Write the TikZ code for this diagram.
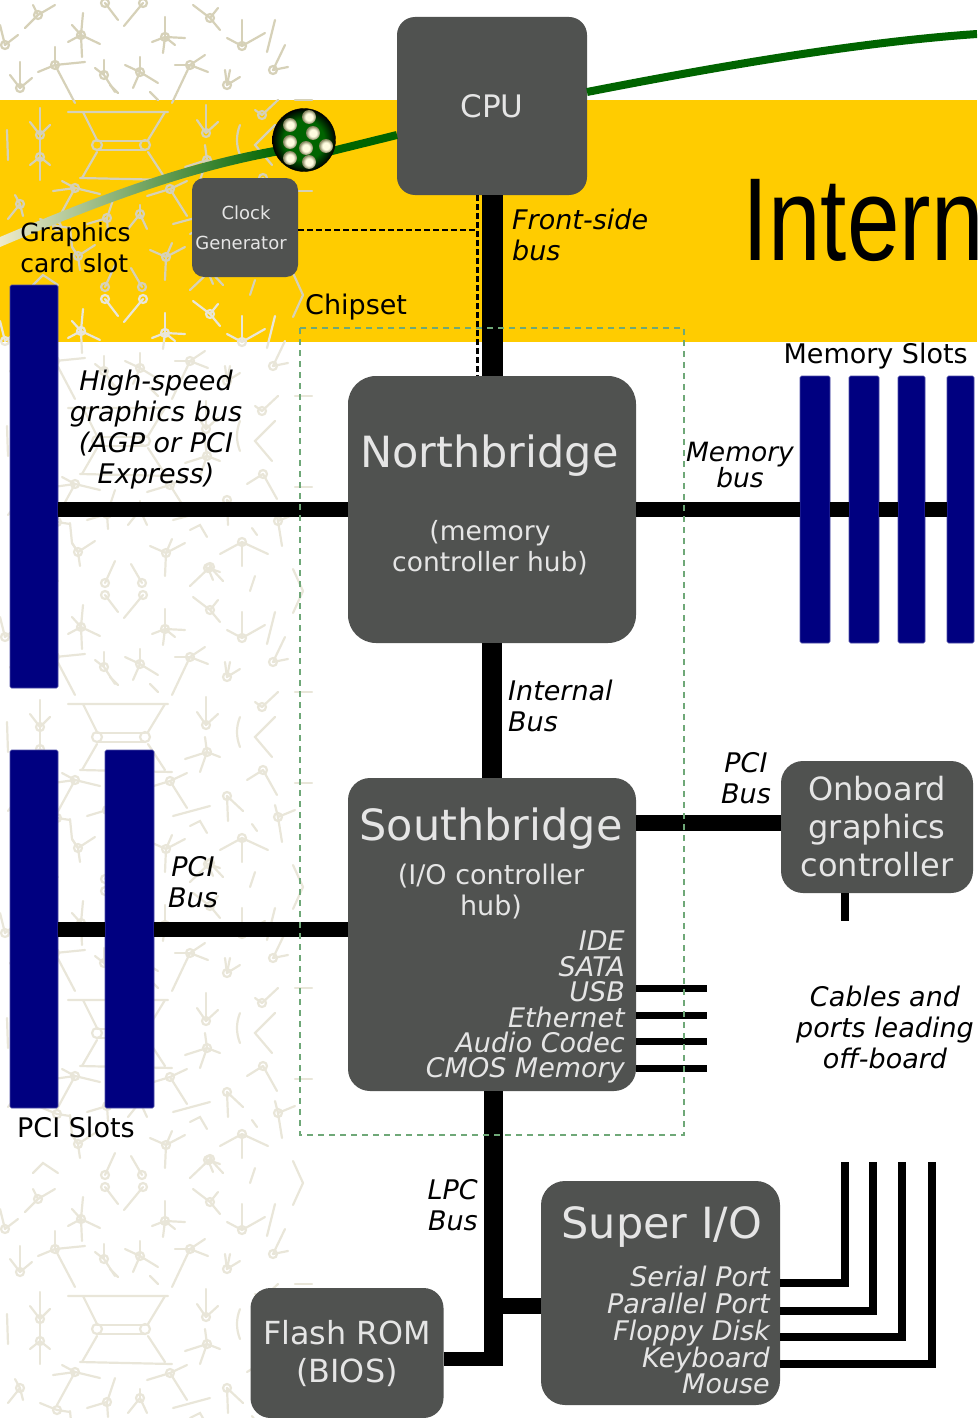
\documentclass[tikz,border=0pt]{standalone}
\usepackage{fontspec}
\setmainfont{DejaVu Sans}
\newfontfamily\arialfont{Liberation Sans}
\usetikzlibrary{calc}

\definecolor{boxgrey}{HTML}{505250}
\definecolor{bandyellow}{HTML}{FFCC00}
\definecolor{slotblue}{HTML}{000080}
\definecolor{cpugreen}{HTML}{006400}
\definecolor{fadecream}{HTML}{EEEACB}
\definecolor{chipgreen}{HTML}{6FA878}
\definecolor{tiledark}{HTML}{D6D1B8}
\definecolor{tilelight}{HTML}{E9E6D9}
\definecolor{pincream}{HTML}{FFFCE0}
\definecolor{pinolive}{HTML}{7F8058}

\pgfdeclareradialshading{ballshade}{\pgfpoint{0bp}{0bp}}{color(0bp)=(cpugreen); color(16bp)=(cpugreen); color(25bp)=(black); color(50bp)=(black)}
\pgfdeclareradialshading{pinshade}{\pgfpoint{0bp}{0bp}}{color(0bp)=(pincream); color(13bp)=(pincream); color(25bp)=(pinolive); color(50bp)=(pinolive)}

\tikzset{
  box/.style={fill=boxgrey, rounded corners=#1, inner sep=0pt, text=white!90!black, align=center},
  boxtext/.style={text=white!90!black, inner sep=0pt, align=center},
  tag/.style={inner sep=0pt, align=center, font=\fontsize{27}{31}\selectfont},
  bustag/.style={tag, font=\fontsize{27}{31}\selectfont\itshape},
  porttag/.style={boxtext, align=right, anchor=north east, font=\fontsize{27}{25.4}\selectfont\itshape},
  slot/.style={fill=slotblue, draw=slotblue!70!white, line width=0.6pt, rounded corners=1.5pt, inner sep=0pt},
  bus/.style={line width=#1, black},
  cable/.style={line width=8pt, black},
  stub/.style={line width=7pt, black},
  tileline/.style={line width=2.2pt, line cap=round},
}

% one tile of the wallpaper behind the board
\newcommand{\bgtile}{
  \foreach \cx/\cy/\legs in {
    38/15/{55/5,25/28,33/5}, 5/45/{0/25,18/35}, 81/35/{83/13,68/42,100/44,72/25,82/57},
    165/37/{165/17,152/42,185/38,163/53,175/45}, 105/3/{118/20}, 143/3/{124/26},
    210/18/{193/5,220/30,218/8}, 242/46/{242/20,227/38,265/33}, 273/70/{285/45,288/67},
    20/88/{20/62,10/75,32/78}, 55/65/{55/47,38/72,85/62,75/103}, 104/75/{104/60,95/68,115/92},
    140/72/{140/57,125/65,158/83,133/88}, 190/65/{205/55,175/65,208/72,172/103},
    227/85/{230/70,240/77,225/70}, 40/135/{40/108,30/122,50/125,40/157},
    40/157/{30/165,50/165,40/180}, 206/133/{206/105,197/120,218/122},
    262/115/{278/100,255/110}, 207/160/{205/145,185/167,220/165,200/180},
    75/188/{62/181,53/191,100/194,57/221}, 57/226/{40/219,70/228},
    20/204/{8/219,23/216,15/195}, 107/218/{115/194,87/224,108/233},
    140/214/{128/229,147/229,140/205}, 170/189/{147/196,187/181,187/216},
    227/204/{243/219,228/229}, 278/225/{295/218,275/213,282/250},
    263/178/{247/188,277/203}, 166/257/{150/250,185/247,165/280,172/243},
    242/246/{220/258,268/258,242/270}, 78/256/{72/247,95/245,80/270},
    210/271/{190/290,223/285}, 208/272/{220/276,213/284}, 105/287/{115/265},
    142/287/{131/268}%
  }{
    \draw[tileline] (\cx,\cy) circle (4);
    \foreach \lx/\ly in \legs {\draw[tileline] (\cx,\cy) -- (\lx,\ly);}
  }
  \draw[tileline] (68,112) -- (168,112) (83,112) -- (97,140) (165,112) -- (148,140);
  \draw[tileline] (97,141) -- (145,141) (97,150) -- (145,150);
  \draw[tileline] (97,145) circle (5) (145,145) circle (5);
  \draw[tileline] (97,152) -- (82,178) (148,152) -- (165,178) (80,178) -- (172,180);
  \draw[tileline] (173,224) -- (210,214);
  \draw[tileline] (275,20) -- (267,52) (110,85) -- (118,93) (150,92) -- (158,100);
  \draw[tileline] (7,130) -- (8,160) (240,125) .. controls (236,135) and (236,145) .. (240,155);
  \draw[tileline] (275,125) -- (255,145) -- (272,165);
  \draw[tileline] (70,227) -- (72,247) -- (78,256);
  \draw[tileline] (190,234) -- (200,229) -- (207,241) (252,232) -- (257,239) (250,295) -- (255,280);
  \draw[tileline] (293,273) -- (303,295) -- (293,317) (33,285) -- (43,275) -- (58,285);
  \draw[tileline] (295,100) -- (312,100) (295,191) -- (312,191);
}

\begin{document}
\begin{tikzpicture}[x=1pt, y=-1pt]
  \clip (0,0) rectangle (977,1418);
  \fill [bandyellow] (0,100) rectangle (977,342);
  \begin{scope}
    \clip (0,0) rectangle (313,1418);
    \foreach \k/\col in {0/tiledark, 1/tilelight, 2/tilelight, 3/tilelight, 4/tilelight} {
      \begin{scope}[shift={(0,296*\k)}, color=\col]
        \bgtile
      \end{scope}
    }
  \end{scope}

  \node [anchor=base west, inner sep=0pt, xscale=0.8, font=\arialfont\fontsize{118}{118}\selectfont] (title) at (742,260) {Intern};

  % main boxes
  \node [box=18pt, minimum width=190pt, minimum height=178pt, font=\fontsize{31}{37}\selectfont] (cpu) at (492,106) {CPU};
  \node [box=12pt, minimum width=106pt, minimum height=99pt, font=\fontsize{18}{30}\selectfont] (clock) at (245,227.5) {\hspace*{2pt}Clock\\Generator\hspace*{8pt}};
  \node [box=28pt, minimum width=288pt, minimum height=267pt] (northbridge) at (492,509.5) {};
  \node [box=22pt, minimum width=288pt, minimum height=313pt] (southbridge) at (492,934.5) {};
  \node [box=22pt, minimum width=192pt, minimum height=132pt, font=\fontsize{32}{38}\selectfont] (onboard) at (877,827) {Onboard\\graphics\\controller};
  \node [box=24pt, minimum width=239pt, minimum height=224pt] (superio) at (660.5,1293) {};
  \node [box=20pt, minimum width=193pt, minimum height=130pt, font=\fontsize{31.8}{38}\selectfont] (flash) at (347,1353) {Flash ROM\\(BIOS)};

  % slots
  \node [slot, minimum width=48pt, minimum height=403pt] (gfxslot) at (34,486.5) {};
  \node [slot, minimum width=48pt, minimum height=358pt] (pcislota) at (34,929) {};
  \node [slot, minimum width=49pt, minimum height=358pt] (pcislotb) at (129.5,929) {};
  \node [slot, minimum width=30pt, minimum height=267pt] (memslota) at (815,509.5) {};
  \node [slot, minimum width=30pt, minimum height=267pt] (memslotb) at (864,509.5) {};
  \node [slot, minimum width=27pt, minimum height=267pt] (memslotc) at (911.5,509.5) {};
  \node [slot, minimum width=27pt, minimum height=267pt] (memslotd) at (960.5,509.5) {};

  % green graphics line and ball
  \coordinate (ballexit) at (330,151.5);
  \coordinate (cpuleft) at (397,135);
  \coordinate (cpuright) at (587,92);
  \coordinate (farright) at (977,34);
  \shade [left color=fadecream, right color=cpugreen] (0,237) .. controls (90,199) and (180,163) .. (280,146) -- (280,155) .. controls (180,173) and (90,209) .. (0,247) -- cycle;
  \draw [cpugreen, line width=8pt] (ballexit) -- (cpuleft);
  \node [circle, minimum size=63pt, inner sep=0pt, draw=black, shading=ballshade] (ball) at (304,140) {};
  \draw [cpugreen, line width=8pt] (cpuright) .. controls (720,66) and (860,42) .. (farright);
  \foreach \px/\py [count=\i] in {290/125, 309/117, 313/133, 290/142, 306/148, 326/146, 290/158, 309/162} {
    \node [circle, minimum size=14pt, inner sep=0pt, shading=pinshade] (pin\i) at (\px,\py) {};
  }

  % buses
  \draw [bus=21pt] (cpu.south) ++(0.5,0) -- ($(northbridge.north)+(0.5,0)$);
  \draw [bus=20pt] (northbridge) -- (southbridge);
  \draw [bus=15pt] (gfxslot.east |- northbridge.west) -- (northbridge.west);
  \draw [bus=15pt] (northbridge.east) -- (memslota.west);
  \draw [bus=15pt] (memslota.east) -- (memslotb.west);
  \draw [bus=15pt] (memslotb.east) -- (memslotc.west);
  \draw [bus=15pt] (memslotc.east) -- (memslotd.west);
  \draw [bus=15pt] (pcislota.east) -- (pcislotb.west);
  \draw [bus=15pt] (pcislotb.east) -- (pcislotb.east -| southbridge.west);
  \coordinate (pcijoin) at (709,823);
  \draw [bus=16pt] (southbridge.east |- pcijoin) -- (onboard.west |- pcijoin);
  \coordinate (lpcend) at (493.5,1366);
  \coordinate (flashjoin) at (493.5,1359);
  \coordinate (superjoin) at (493.5,1306);
  \draw [bus=19pt] (lpcend |- southbridge.south) -- (lpcend);
  \draw [bus=14pt] (flash.east |- flashjoin) -- (flashjoin);
  \draw [bus=16pt] (superjoin) -- (superio.west |- superjoin);
  \coordinate (onboardstub) at (845,921);
  \draw [cable] (onboardstub |- onboard.south) -- (onboardstub);

  % clock wiring
  \coordinate (clockjoin) at (477.5,230);
  \draw [black, line width=2.6pt, dash pattern=on 6pt off 3pt] (clock.east |- clockjoin) -- (clockjoin);
  \draw [black, line width=2.6pt, dash pattern=on 6pt off 3pt] (clockjoin |- cpu.south) -- (clockjoin |- northbridge.north);

  % ports on the southbridge
  \foreach \py [count=\i] in {988, 1015, 1041, 1068} {
    \coordinate (port\i) at (707,\py);
    \draw [stub] (southbridge.east |- port\i) -- (port\i);
  }

  % cables of the super i/o
  \foreach \cx/\cy [count=\i] in {845/1283, 873/1310.5, 902/1337, 932/1364} {
    \coordinate (cabletop\i) at (\cx,1162);
    \coordinate (cableport\i) at (780,\cy);
    \draw [cable] (cableport\i) -| (cabletop\i);
  }

  % chipset outline
  \draw [chipgreen, line width=2pt, dash pattern=on 6pt off 5pt] (300,328) rectangle (684,1135);

  % box texts
  \node [boxtext, font=\fontsize{43}{50}\selectfont] (nbtitle) at (489.5,456) {Northbridge};
  \node [boxtext, font=\fontsize{26.5}{31}\selectfont] (nbsub) at (490,547.5) {(memory\\controller hub)};
  \node [boxtext, font=\fontsize{43}{50}\selectfont] (sbtitle) at (491,829) {Southbridge};
  \node [boxtext, font=\fontsize{27}{31}\selectfont] (sbsub) at (491,892) {(I/O controller\\hub)};
  \node [porttag] (sbports) at (625,931) {IDE\\SATA\\USB\\Ethernet\\Audio Codec\\CMOS Memory};
  \node [boxtext, font=\fontsize{43}{50}\selectfont] (siotitle) at (662,1227) {Super I/O};
  \node [porttag, font=\fontsize{27}{26.8}\selectfont\itshape] (sioports) at (770,1266) {Serial Port\\Parallel Port\\Floppy Disk\\Keyboard\\Mouse};

  % plain labels
  \node [tag, align=left, font=\fontsize{25}{31}\selectfont] (gfxtag) at (75.5,247.5) {Graphics\\card slot};
  \node [tag, anchor=west] (chiptag) at (305,307) {Chipset};
  \node [tag, anchor=east] (memtag) at (968,356) {Memory Slots};
  \node [tag, anchor=west] (pcitag) at (17,1127) {PCI Slots};

  % bus labels
  \node [bustag, align=left, anchor=west] (fsbtag) at (512,235) {Front-side\\bus};
  \node [bustag] (hsgtag) at (156,430) {High-speed\\graphics bus\\(AGP or PCI\\Express)};
  \node [bustag, font=\fontsize{26.5}{26}\selectfont\itshape] (membustag) at (740,465) {Memory\\bus};
  \node [bustag, align=left, anchor=west] (inttag) at (508,706) {Internal\\Bus};
  \node [bustag] (pcibtag) at (746,778) {PCI\\Bus};
  \node [bustag] (pciatag) at (193,882) {PCI\\Bus};
  \node [bustag, align=right, anchor=east] (lpctag) at (478,1205) {LPC\\Bus};
  \node [bustag] (cablestag) at (885,1027) {Cables and\\ports leading\\off-board};
\end{tikzpicture}
\end{document}
